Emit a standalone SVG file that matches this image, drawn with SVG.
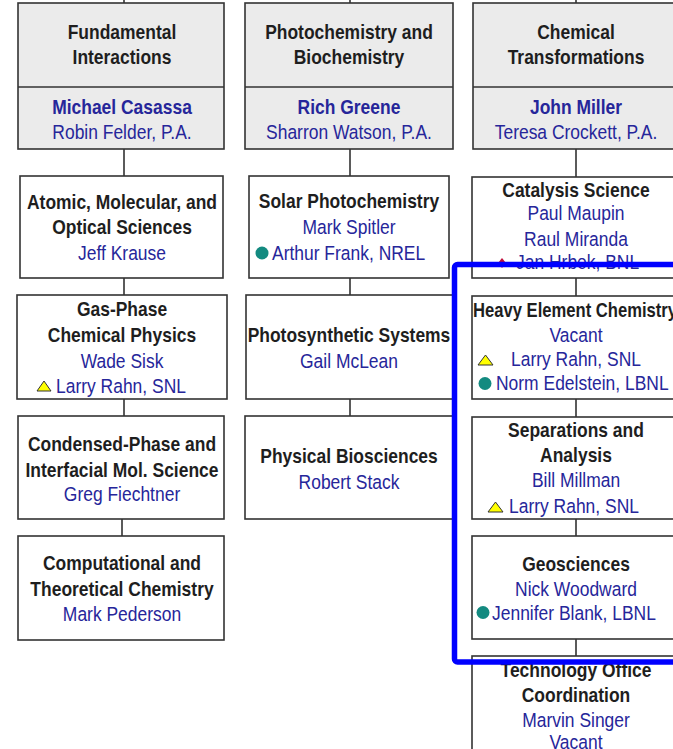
<svg xmlns="http://www.w3.org/2000/svg" width="673" height="749" viewBox="0 0 673 749">
<style>
.box{fill:#fff;stroke:#333;stroke-width:1.6}
.hdr{fill:#ebebeb;stroke:#333;stroke-width:1.6}
.ln{stroke:#333;stroke-width:1.6;fill:none}
text{font-family:"Liberation Sans",Arial,sans-serif;font-size:19.5px;text-anchor:middle}
.t{font-weight:bold;fill:#1e1e1e}
.nb{font-weight:bold;fill:#26269a}
.n{fill:#26269a}
.s{text-anchor:start}
.tri{fill:#ffff00;stroke:#333;stroke-width:1}
.dot{fill:#138a80}
.dia{fill:#c0103c}
</style>
<g id="connectors">
<path class="ln" d="M124 0V3M124 149V176M124 278V295M124 399V416M122 519V536"/>
<path class="ln" d="M350 0V3M350 149V176M350 278V295M350 399V416"/>
<path class="ln" d="M576 0V3M576 149V177M576 278V296M576 399V417M576 519V536M576 639V656"/>
</g>
<g id="fundamental-interactions">
<rect class="hdr" x="18" y="3" width="206" height="146"/>
<line class="ln" x1="18" y1="87" x2="224" y2="87"/>
<text class="t" transform="translate(122 39) scale(.895 1)">Fundamental</text>
<text class="t" transform="translate(122 64) scale(.895 1)">Interactions</text>
<text class="nb" transform="translate(122 114) scale(.895 1)">Michael Casassa</text>
<text class="n" transform="translate(122 138.5) scale(.895 1)">Robin Felder, P.A.</text>
</g>
<g id="photochemistry-biochemistry">
<rect class="hdr" x="245" y="3" width="208" height="146"/>
<line class="ln" x1="245" y1="87" x2="453" y2="87"/>
<text class="t" transform="translate(349 39) scale(.895 1)">Photochemistry and</text>
<text class="t" transform="translate(349 64) scale(.895 1)">Biochemistry</text>
<text class="nb" transform="translate(349 114) scale(.895 1)">Rich Greene</text>
<text class="n" transform="translate(349 138.5) scale(.895 1)">Sharron Watson, P.A.</text>
</g>
<g id="chemical-transformations">
<rect class="hdr" x="473" y="3" width="206" height="146"/>
<line class="ln" x1="473" y1="87" x2="679" y2="87"/>
<text class="t" transform="translate(576 39) scale(.895 1)">Chemical</text>
<text class="t" transform="translate(576 64) scale(.895 1)">Transformations</text>
<text class="nb" transform="translate(576 114) scale(.895 1)">John Miller</text>
<text class="n" transform="translate(576 138.5) scale(.895 1)">Teresa Crockett, P.A.</text>
</g>
<g id="amo-sciences">
<rect class="box" x="20" y="176" width="203" height="102"/>
<text class="t" transform="translate(122 209) scale(.895 1)">Atomic, Molecular, and</text>
<text class="t" transform="translate(122 234) scale(.895 1)">Optical Sciences</text>
<text class="n" transform="translate(122 260) scale(.895 1)">Jeff Krause</text>
</g>
<g id="gas-phase">
<rect class="box" x="17" y="295" width="210" height="104"/>
<text class="t" transform="translate(122 316) scale(.895 1)">Gas-Phase</text>
<text class="t" transform="translate(122 342) scale(.895 1)">Chemical Physics</text>
<text class="n" transform="translate(122 368) scale(.895 1)">Wade Sisk</text>
<polygon class="tri" points="37,391 51,391 44,381"/>
<text class="n s" transform="translate(56 393) scale(.895 1)">Larry Rahn, SNL</text>
</g>
<g id="condensed-phase">
<rect class="box" x="18" y="416" width="206" height="103"/>
<text class="t" transform="translate(122 451) scale(.895 1)">Condensed-Phase and</text>
<text class="t" transform="translate(122 477) scale(.895 1)">Interfacial Mol. Science</text>
<text class="n" transform="translate(122 501) scale(.895 1)">Greg Fiechtner</text>
</g>
<g id="computational">
<rect class="box" x="18" y="536" width="206" height="104"/>
<text class="t" transform="translate(122 570) scale(.895 1)">Computational and</text>
<text class="t" transform="translate(122 596) scale(.895 1)">Theoretical Chemistry</text>
<text class="n" transform="translate(122 621) scale(.895 1)">Mark Pederson</text>
</g>
<g id="solar-photochemistry">
<rect class="box" x="249" y="176" width="200" height="102"/>
<text class="t" transform="translate(349 208) scale(.895 1)">Solar Photochemistry</text>
<text class="n" transform="translate(349 234) scale(.895 1)">Mark Spitler</text>
<circle class="dot" cx="262" cy="253" r="6.5"/>
<text class="n s" transform="translate(272 260) scale(.895 1)">Arthur Frank, NREL</text>
</g>
<g id="photosynthetic-systems">
<rect class="box" x="246" y="295" width="207" height="104"/>
<text class="t" transform="translate(349 342) scale(.895 1)">Photosynthetic Systems</text>
<text class="n" transform="translate(349 368) scale(.895 1)">Gail McLean</text>
</g>
<g id="physical-biosciences">
<rect class="box" x="245" y="416" width="208" height="103"/>
<text class="t" transform="translate(349 463) scale(.895 1)">Physical Biosciences</text>
<text class="n" transform="translate(349 489) scale(.895 1)">Robert Stack</text>
</g>
<g id="catalysis-science">
<rect class="box" x="472" y="177" width="207" height="101"/>
<text class="t" transform="translate(576 197) scale(.895 1)">Catalysis Science</text>
<text class="n" transform="translate(576 220) scale(.895 1)">Paul Maupin</text>
<text class="n" transform="translate(576 246) scale(.895 1)">Raul Miranda</text>
<polygon class="dia" points="502,258 506,263 502,268 498,263"/>
<text class="n s" transform="translate(516 269) scale(.895 1)">Jan Hrbek, BNL</text>
</g>
<g id="heavy-element">
<rect class="box" x="472" y="296" width="207" height="103"/>
<text class="t s" transform="translate(473 317) scale(.895 1)" textLength="228" lengthAdjust="spacingAndGlyphs">Heavy Element Chemistry</text>
<text class="n" transform="translate(576 342) scale(.895 1)">Vacant</text>
<polygon class="tri" points="478,365 493,365 485.5,355"/>
<text class="n s" transform="translate(511 366) scale(.895 1)">Larry Rahn, SNL</text>
<circle class="dot" cx="485" cy="383.5" r="6.5"/>
<text class="n s" transform="translate(496 390) scale(.895 1)">Norm Edelstein, LBNL</text>
</g>
<g id="separations-analysis">
<rect class="box" x="472" y="417" width="207" height="102"/>
<text class="t" transform="translate(576 437) scale(.895 1)">Separations and</text>
<text class="t" transform="translate(576 462) scale(.895 1)">Analysis</text>
<text class="n" transform="translate(576 487) scale(.895 1)">Bill Millman</text>
<polygon class="tri" points="488,512 503,512 495.5,502"/>
<text class="n s" transform="translate(509 512.5) scale(.895 1)">Larry Rahn, SNL</text>
</g>
<g id="geosciences">
<rect class="box" x="472" y="536" width="207" height="103"/>
<text class="t" transform="translate(576 571) scale(.895 1)">Geosciences</text>
<text class="n" transform="translate(576 596) scale(.895 1)">Nick Woodward</text>
<circle class="dot" cx="483" cy="612.5" r="6.5"/>
<text class="n s" transform="translate(492 620) scale(.895 1)">Jennifer Blank, LBNL</text>
</g>
<g id="technology-office">
<rect class="box" x="472" y="656" width="207" height="110"/>
<text class="t" transform="translate(576 677) scale(.895 1)">Technology Office</text>
<text class="t" transform="translate(576 702) scale(.895 1)">Coordination</text>
<text class="n" transform="translate(576 727) scale(.895 1)">Marvin Singer</text>
<text class="n" transform="translate(576 749) scale(.895 1)">Vacant</text>
</g>
<g id="highlight">
<rect x="454.5" y="264.5" width="300" height="397.5" rx="3" fill="none" stroke="#0000ff" stroke-width="5.5"/>
</g>
</svg>
